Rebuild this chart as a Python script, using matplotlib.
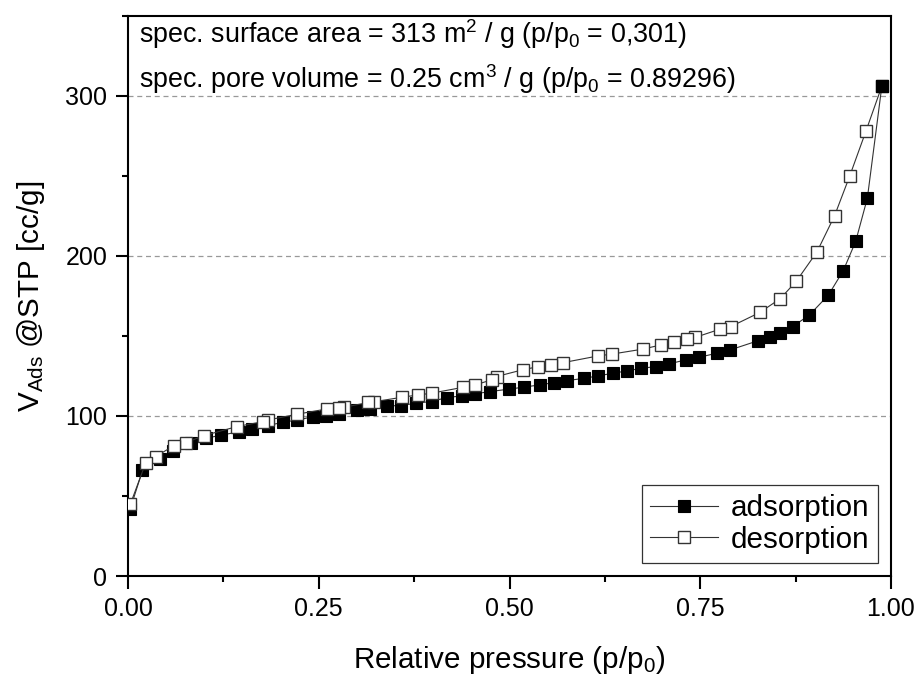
import matplotlib
matplotlib.use("Agg")
import matplotlib.pyplot as plt
from matplotlib.ticker import MultipleLocator, FormatStrFormatter

plt.rcParams['font.family'] = ['Liberation Sans', 'DejaVu Sans']
plt.rcParams['mathtext.fontset'] = 'custom'
plt.rcParams['mathtext.rm'] = 'Liberation Sans'
plt.rcParams['mathtext.it'] = 'Liberation Sans:italic'
plt.rcParams['mathtext.bf'] = 'Liberation Sans:bold'

ads_x = [0.003, 0.019, 0.042, 0.059, 0.082, 0.102, 0.122, 0.145, 0.162, 0.183,
         0.203, 0.222, 0.243, 0.260, 0.277, 0.300, 0.317, 0.339, 0.358, 0.378,
         0.398, 0.418, 0.438, 0.455, 0.474, 0.499, 0.519, 0.540, 0.558, 0.576,
         0.598, 0.616, 0.636, 0.654, 0.673, 0.692, 0.709, 0.731, 0.749, 0.772,
         0.789, 0.826, 0.841, 0.855, 0.871, 0.893, 0.918, 0.9375, 0.9537, 0.969,
         0.988]
ads_y = [42, 66, 73, 78, 83, 86, 88, 90, 92, 94,
         96, 97.5, 99.5, 100.2, 101.3, 103.7, 104.4, 106.2, 106.5, 108,
         109, 111.5, 112.5, 113.8, 115.2, 116.7, 118, 119.4, 120.8, 122.1,
         123.5, 125, 126.7, 128.1, 129.8, 130.8, 132.5, 135, 136.7, 139.2,
         141.2, 147, 149.6, 152, 155.8, 163, 175.5, 190.8, 209, 236,
         306]

des_x = [0.988, 0.967, 0.946, 0.926, 0.903, 0.876, 0.855, 0.828, 0.790, 0.776,
         0.743, 0.732, 0.716, 0.699, 0.6745, 0.634, 0.6164, 0.5705, 0.554, 0.538,
         0.518, 0.483, 0.4766, 0.455, 0.4395, 0.398, 0.3805, 0.3595, 0.322, 0.315,
         0.283, 0.276, 0.261, 0.221, 0.184, 0.1765, 0.1424, 0.0996, 0.0756, 0.060,
         0.0363, 0.023, 0.003]
des_y = [306, 277.7, 250, 225, 202.5, 184.2, 173.3, 164.6, 155.8, 154.2,
         149, 148, 146.2, 144.4, 141.7, 138.6, 137.5, 133.3, 131.9, 130.8,
         128.9, 124.6, 122.5, 119.4, 117.9, 114.2, 113.1, 111.7, 108.8, 108.4,
         105.4, 105, 104.4, 101, 97.5, 96.4, 93.3, 87.7, 83.3, 81.4,
         74.6, 70.4, 44.8]

xticks = [0.00, 0.25, 0.50, 0.75, 1.00]
yticks = [0, 100, 200, 300]

fig = plt.figure(figsize=(9.19, 6.82), dpi=100)
ax = fig.add_axes([128/919, 1 - 576/682, (891-128)/919, (576-15.7)/682])

ax.plot(ads_x, ads_y, color='#333333', lw=0.8, marker='s', ms=8.3,
        mfc='black', mec='black', mew=0.8, label='adsorption', zorder=3)
ax.plot(des_x, des_y, color='#333333', lw=0.8, marker='s', ms=8.3,
        mfc='white', mec='#333333', mew=1.0, label='desorption', zorder=4,
        markevery=slice(1, None))
# redraw top adsorption marker on top
ax.plot(ads_x[-1:], ads_y[-1:], ls='none', marker='s', ms=8.3, mfc='black',
        mec='black', zorder=5)

ax.set_xlim(0, 1)
ax.set_ylim(0, 350)
ax.set_xticks(xticks)
ax.set_yticks(yticks)
ax.xaxis.set_major_formatter(FormatStrFormatter('%.2f'))
ax.xaxis.set_minor_locator(MultipleLocator(0.125))
ax.yaxis.set_minor_locator(MultipleLocator(50))
ax.tick_params(which='major', direction='out', length=9, width=1.5,
               labelsize=18, pad=6)
ax.tick_params(which='minor', direction='out', length=4, width=1.5)
for s in ax.spines.values():
    s.set_linewidth(1.5)

for yv in [100, 200, 300]:
    ax.axhline(yv, color='#999999', lw=0.9, ls=(0, (4, 3)), zorder=1)

ax.set_xlabel('Relative pressure (p/p$\\mathregular{_0}$)', fontsize=21.3, labelpad=17)
ax.set_ylabel('V$\\mathregular{_{Ads}}$ @STP [cc/g]', fontsize=21.3, labelpad=13)

ax.text(0.0144, 333, 'spec. surface area = 313 m$\\mathregular{^2}$ / g (p/p$\\mathregular{_0}$ = 0,301)',
        fontsize=19.4, va='baseline', ha='left')
ax.text(0.0144, 305, 'spec. pore volume = 0.25 cm$\\mathregular{^3}$ / g (p/p$\\mathregular{_0}$ = 0.89296)',
        fontsize=19.4, va='baseline', ha='left')

leg = ax.legend(loc='lower right', fontsize=21.3, frameon=True, fancybox=False,
                edgecolor='#333333', framealpha=1, handlelength=2.3,
                borderaxespad=0.45, labelspacing=0.12, borderpad=0.3,
                handletextpad=0.4)
leg.get_frame().set_linewidth(0.9)

fig.savefig('out.png', dpi=100)
